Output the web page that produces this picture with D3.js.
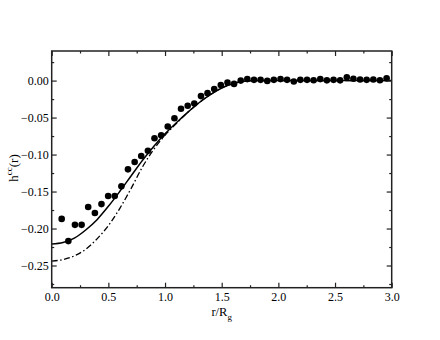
<!DOCTYPE html>
<html>
<head>
<meta charset="utf-8">
<script src="https://cdn.jsdelivr.net/npm/d3@7"></script>
<style>
  body { margin: 0; background: #fff; }
  text { font-family: "Liberation Serif", "Times New Roman", serif; fill: #000; }
</style>
</head>
<body>
<div id="chart"></div>
<script>
// Chart size
const width = 440;
const height = 340;

// Simulation points (r/Rg, h^cc)
const pointR = [0.088, 0.147, 0.205, 0.264, 0.322, 0.381, 0.439, 0.498, 0.556, 0.615,
    0.673, 0.732, 0.790, 0.849, 0.907, 0.966, 1.024, 1.083, 1.141, 1.200,
    1.258, 1.317, 1.375, 1.434, 1.492, 1.551, 1.609, 1.668, 1.726, 1.785,
    1.843, 1.902, 1.960, 2.019, 2.077, 2.136, 2.194, 2.253, 2.311, 2.370,
    2.428, 2.487, 2.545, 2.604, 2.662, 2.721, 2.779, 2.838, 2.896, 2.955];
const pointH = [-0.187, -0.217, -0.195, -0.195, -0.171, -0.179, -0.167, -0.156, -0.156, -0.143,
    -0.120, -0.110, -0.102, -0.095, -0.078, -0.074, -0.062, -0.051, -0.038, -0.034,
    -0.031, -0.021, -0.017, -0.0115, -0.006, -0.0027, -0.0045, 0.000, 0.002, 0.001,
    0.001, -0.0004, 0.001, 0.002, 0.001, -0.0013, 0.001, 0.001, 0.0005, 0.002,
    0.0003, 0.001, 0.0003, 0.0046, 0.0025, 0.0015, 0.001, 0.0015, 0.0005, 0.003];

// Theory curves
const curveR = [0.0, 0.1, 0.2, 0.3, 0.4, 0.5, 0.6, 0.7, 0.8, 0.9, 1.0, 1.1, 1.2, 1.3,
    1.4, 1.5, 1.6, 1.7, 1.8, 3.0];
const solidH = [-0.221, -0.219, -0.213, -0.202, -0.188, -0.170, -0.150, -0.129, -0.108, -0.089,
    -0.072, -0.057, -0.043, -0.030, -0.019, -0.010, -0.004, -0.001, 0.000, 0.000];
const dashDotH = [-0.244, -0.242, -0.237, -0.228, -0.214, -0.196, -0.173, -0.146, -0.117, -0.093,
    -0.074, -0.058, -0.043, -0.030, -0.019, -0.010, -0.004, -0.001, 0.000, 0.000];

// Ticks
const xMajor = [0.0, 0.5, 1.0, 1.5, 2.0, 2.5, 3.0];
const xMinor = [0.25, 0.75, 1.25, 1.75, 2.25, 2.75];
const yMajor = [-0.25, -0.20, -0.15, -0.10, -0.05, 0.00];
const yMinor = [-0.275, -0.225, -0.175, -0.125, -0.075, -0.025, 0.025];

const margin = { left: 51.7, right: 48.3, top: 51, bottom: 52.3 };
const serif = '"Liberation Serif", "Times New Roman", serif';

const svg = d3.select('#chart')
    .append('svg')
    .attr('width', width)
    .attr('height', height);

const x = d3.scaleLinear()
    .domain([0, 3])
    .range([margin.left, width - margin.right]);

const y = d3.scaleLinear()
    .domain([-0.28, 0.04])
    .range([height - margin.bottom, margin.top]);

// Curves
const line = d3.line()
    .x(d => x(d[0]))
    .y(d => y(d[1]))
    .curve(d3.curveMonotoneX);

svg.append('path')
    .datum(curveR.map((r, i) => [r, dashDotH[i]]))
    .attr('d', line)
    .attr('fill', 'none')
    .attr('stroke', '#000')
    .attr('stroke-width', 1.3)
    .attr('stroke-dasharray', '6,2.5,1.5,2.5');

svg.append('path')
    .datum(curveR.map((r, i) => [r, solidH[i]]))
    .attr('d', line)
    .attr('fill', 'none')
    .attr('stroke', '#000')
    .attr('stroke-width', 1.5);

// Points
svg.selectAll('circle.pt')
    .data(pointR.map((r, i) => [r, pointH[i]]))
    .enter()
    .append('circle')
    .attr('class', 'pt')
    .attr('cx', d => x(d[0]))
    .attr('cy', d => y(d[1]))
    .attr('r', 3.3)
    .attr('fill', '#000');

// Axes, ticks pointing inward on all four sides
function styleAxis(g) {
    g.attr('font-family', serif).attr('font-size', 12);
    g.select('.domain').remove();
    g.selectAll('line').attr('stroke', '#222').attr('stroke-width', 1.2);
    g.selectAll('text').style('font-family', serif).style('font-size', '12px');
}

const bottom = height - margin.bottom;
const right = width - margin.right;

svg.append('g')
    .attr('transform', `translate(0,${bottom})`)
    .call(d3.axisBottom(x).tickValues(xMajor).tickSize(-5).tickPadding(5).tickFormat(d3.format('.1f')))
    .call(styleAxis);
svg.append('g')
    .attr('transform', `translate(0,${bottom})`)
    .call(d3.axisBottom(x).tickValues(xMinor).tickSize(-2.5).tickFormat(''))
    .call(styleAxis);
svg.append('g')
    .attr('transform', `translate(0,${margin.top})`)
    .call(d3.axisTop(x).tickValues(xMajor).tickSize(-5).tickFormat(''))
    .call(styleAxis);
svg.append('g')
    .attr('transform', `translate(0,${margin.top})`)
    .call(d3.axisTop(x).tickValues(xMinor).tickSize(-2.5).tickFormat(''))
    .call(styleAxis);

svg.append('g')
    .attr('transform', `translate(${margin.left},0)`)
    .call(d3.axisLeft(y).tickValues(yMajor).tickSize(-5).tickPadding(3).tickFormat(d3.format('.2f')))
    .call(styleAxis);
svg.append('g')
    .attr('transform', `translate(${margin.left},0)`)
    .call(d3.axisLeft(y).tickValues(yMinor).tickSize(-2.5).tickFormat(''))
    .call(styleAxis);
svg.append('g')
    .attr('transform', `translate(${right},0)`)
    .call(d3.axisRight(y).tickValues(yMajor).tickSize(-5).tickFormat(''))
    .call(styleAxis);
svg.append('g')
    .attr('transform', `translate(${right},0)`)
    .call(d3.axisRight(y).tickValues(yMinor).tickSize(-2.5).tickFormat(''))
    .call(styleAxis);

// Frame
svg.append('rect')
    .attr('x', margin.left)
    .attr('y', margin.top)
    .attr('width', right - margin.left)
    .attr('height', bottom - margin.top)
    .attr('fill', 'none')
    .attr('stroke', '#222')
    .attr('stroke-width', 1.5);

// Axis titles
const xTitle = svg.append('text')
    .attr('x', (margin.left + right) / 2)
    .attr('y', 316)
    .attr('text-anchor', 'middle')
    .style('font-family', serif)
    .style('font-size', '12.5px');
xTitle.append('tspan').text('r/R');
xTitle.append('tspan').attr('dy', 4).style('font-size', '9px').text('g');

const yTitle = svg.append('text')
    .attr('transform', 'translate(18,168) rotate(-90)')
    .attr('text-anchor', 'middle')
    .style('font-family', serif)
    .style('font-size', '13px');
yTitle.append('tspan').text('h');
yTitle.append('tspan').attr('dy', -6).style('font-size', '9px').text('cc');
yTitle.append('tspan').attr('dy', 6).text('(r)');
</script>
</body>
</html>
